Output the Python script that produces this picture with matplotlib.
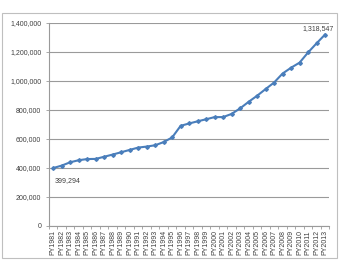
import matplotlib
matplotlib.use("Agg")
import matplotlib.pyplot as plt
from matplotlib.patches import Rectangle
from matplotlib.ticker import FuncFormatter, FixedLocator

years = [f"PY{y}" for y in range(1981, 2014)]
values = [399294, 416000, 439000, 453000, 461000, 462000, 477000, 492000,
          508000, 524000, 540000, 547000, 556000, 578000, 610000, 690000,
          706000, 721000, 735000, 750000, 750000, 772000, 810000, 855000,
          897000, 943000, 988000, 1050000, 1090000, 1125000, 1195000,
          1258000, 1318547]
yticks = [0, 200000, 400000, 600000, 800000, 1000000, 1200000, 1400000]

plt.rcParams['font.family'] = ['Liberation Sans', 'DejaVu Sans']
fig = plt.figure(figsize=(3.41, 2.63), dpi=100)
fig.patches.append(Rectangle((1.7/341, 1-257.7/263), 335/341, 245/263,
                             transform=fig.transFigure, fill=False,
                             edgecolor='#BFBFBF', linewidth=0.8))
ax = fig.add_axes([49/341, 1-226/263, 280.3/341, (226-22.7)/263])

x = list(range(len(years)))
ax.plot(x, values, color='#4A7EBB', linewidth=1.5, marker='D',
        markersize=1.9, markerfacecolor='#4A7EBB', markeredgecolor='#4A7EBB')

ax.set_xlim(-0.5, len(years)-0.5)
ax.set_ylim(0, 1400000)
ax.set_yticks(yticks)
ax.yaxis.set_major_formatter(FuncFormatter(lambda v, p: f"{int(v):,}"))
ax.grid(axis='y', color='#9A9A9A', linewidth=0.8)
ax.set_axisbelow(True)

ax.set_xticks(x)
ax.set_xticklabels(years, rotation=90, fontsize=5, color='#404040')
ax.xaxis.set_minor_locator(FixedLocator([i-0.5 for i in range(len(years)+1)]))
ax.tick_params(axis='x', which='major', length=0, pad=3)
ax.tick_params(axis='x', which='minor', length=2.5, color='#9A9A9A', width=0.6)
ax.tick_params(axis='y', length=2.5, color='#9A9A9A', width=0.6, labelsize=5,
               labelcolor='#404040', pad=3)

for s in ['top', 'right']:
    ax.spines[s].set_visible(False)
for s in ['left', 'bottom']:
    ax.spines[s].set_color('#9A9A9A')
    ax.spines[s].set_linewidth(0.8)

ax.annotate(f"{values[0]:,}", (x[0], values[0]), xytext=(1, -9),
            textcoords='offset points', fontsize=5, color='#404040',
            ha='left', va='center')
ax.annotate(f"{values[-1]:,}", (x[-1], values[-1]), xytext=(-5, 4),
            textcoords='offset points', fontsize=5, color='#404040',
            ha='center', va='center')

fig.savefig("out.png", dpi=100)
